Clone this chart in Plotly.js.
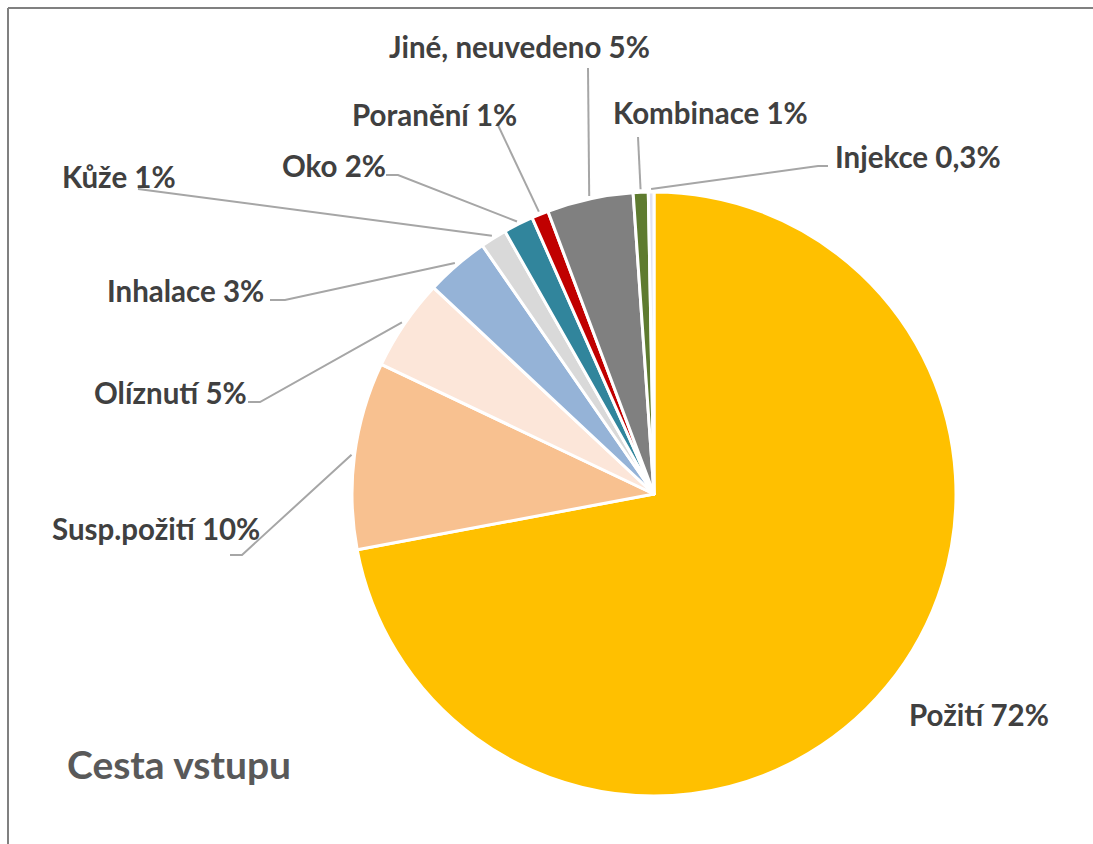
<!DOCTYPE html>
<html>
<head>
<meta charset="utf-8">
<script src="https://cdn.plot.ly/plotly-3.0.1.min.js"></script>
<style>html,body{margin:0;padding:0;background:#fff;}#chart{width:1093px;height:844px;}</style>
</head>
<body>
<div id="chart"></div>
<script>
// ---- data ----
const categories = ["Požití", "Susp.požití", "Olíznutí", "Inhalace", "Kůže", "Oko", "Poranění", "Jiné, neuvedeno", "Kombinace", "Injekce"];
const values = [71.9, 10.0, 4.9, 3.4, 1.4, 1.6, 0.9, 4.6, 0.8, 0.3];
const pctLabels = ["72%", "10%", "5%", "3%", "1%", "2%", "1%", "5%", "1%", "0,3%"];
const sliceColors = ["#FFC000", "#F8C190", "#FCE6D9", "#95B3D7", "#D9D9D9", "#31859C", "#C00000", "#808080", "#5E7B2F", "#E2E2F0"];

// ---- layout (pixels) ----
const W = 1093, H = 844;
const CX = 654, CY = 494, R = 302;
// label anchor (left x, cap-middle y) and leader line elbow/end
const labelPlace = [
  {tx: 907, ty: 714, elbow: null, end: null},
  {tx: 50, ty: 528, elbow: [242, 555], end: [230, 555]},
  {tx: 92, ty: 392, elbow: [260, 402], end: [248, 402]},
  {tx: 105, ty: 290, elbow: [285, 300], end: [270, 300]},
  {tx: 60, ty: 177, elbow: [138, 189], end: [138, 189]},
  {tx: 280, ty: 166, elbow: [398, 175], end: [386, 175]},
  {tx: 350, ty: 115, elbow: [497, 123], end: [497, 123]},
  {tx: 387, ty: 47, elbow: [588, 68], end: [588, 68]},
  {tx: 611, ty: 112, elbow: [638, 137], end: [638, 137]},
  {tx: 833, ty: 156, elbow: [818, 166], end: [828, 166]}
];

const px = x => x / W;
const py = y => 1 - y / H;

const total = values.reduce((a, b) => a + b, 0);
let cum = 0;
const shapes = [];
const annotations = [];
values.forEach((v, i) => {
  const mid = (cum + v / 2) / total * 2 * Math.PI;
  cum += v;
  const lp = labelPlace[i];
  annotations.push({
    xref: 'paper', yref: 'paper', x: px(lp.tx), y: py(lp.ty),
    xanchor: 'left', yanchor: 'middle', showarrow: false,
    text: categories[i] + ' ' + pctLabels[i],
    font: {family: 'Lato, "Open Sans", sans-serif', size: 29.5, color: '#404040', weight: 'bold'}
  });
  if (lp.elbow) {
    const sx = CX + (R + 3) * Math.sin(mid), sy = CY - (R + 3) * Math.cos(mid);
    const path = 'M' + px(sx) + ',' + py(sy) + ' L' + px(lp.elbow[0]) + ',' + py(lp.elbow[1]) +
      ' L' + px(lp.end[0]) + ',' + py(lp.end[1]);
    shapes.push({type: 'path', xref: 'paper', yref: 'paper', path: path, line: {color: '#A6A6A6', width: 2}});
  }
});

// chart frame (left and top edges)
shapes.push({type: 'line', xref: 'paper', yref: 'paper', x0: px(8), x1: px(8), y0: 0, y1: py(8), line: {color: '#808080', width: 2}});
shapes.push({type: 'line', xref: 'paper', yref: 'paper', x0: px(8), x1: 1, y0: py(8), y1: py(8), line: {color: '#808080', width: 2}});

const trace = {
  type: 'pie',
  labels: categories,
  values: values,
  sort: false,
  direction: 'clockwise',
  rotation: 0,
  textinfo: 'none',
  hoverinfo: 'label+percent',
  marker: {colors: sliceColors, line: {color: '#FFFFFF', width: 3}},
  domain: {x: [px(CX - R), px(CX + R)], y: [py(CY + R), py(CY - R)]},
  showlegend: false
};

const layout = {
  width: W, height: H,
  margin: {l: 0, r: 0, t: 0, b: 0},
  paper_bgcolor: '#FFFFFF',
  showlegend: false,
  title: {
    text: 'Cesta vstupu', xref: 'paper', yref: 'paper',
    x: px(67), xanchor: 'left', y: py(765), yanchor: 'middle',
    font: {family: 'Lato, "Open Sans", sans-serif', size: 39, color: '#595959', weight: 'bold'}
  },
  shapes: shapes,
  annotations: annotations
};

Plotly.newPlot('chart', [trace], layout, {displayModeBar: false, staticPlot: true});
</script>
</body>
</html>
